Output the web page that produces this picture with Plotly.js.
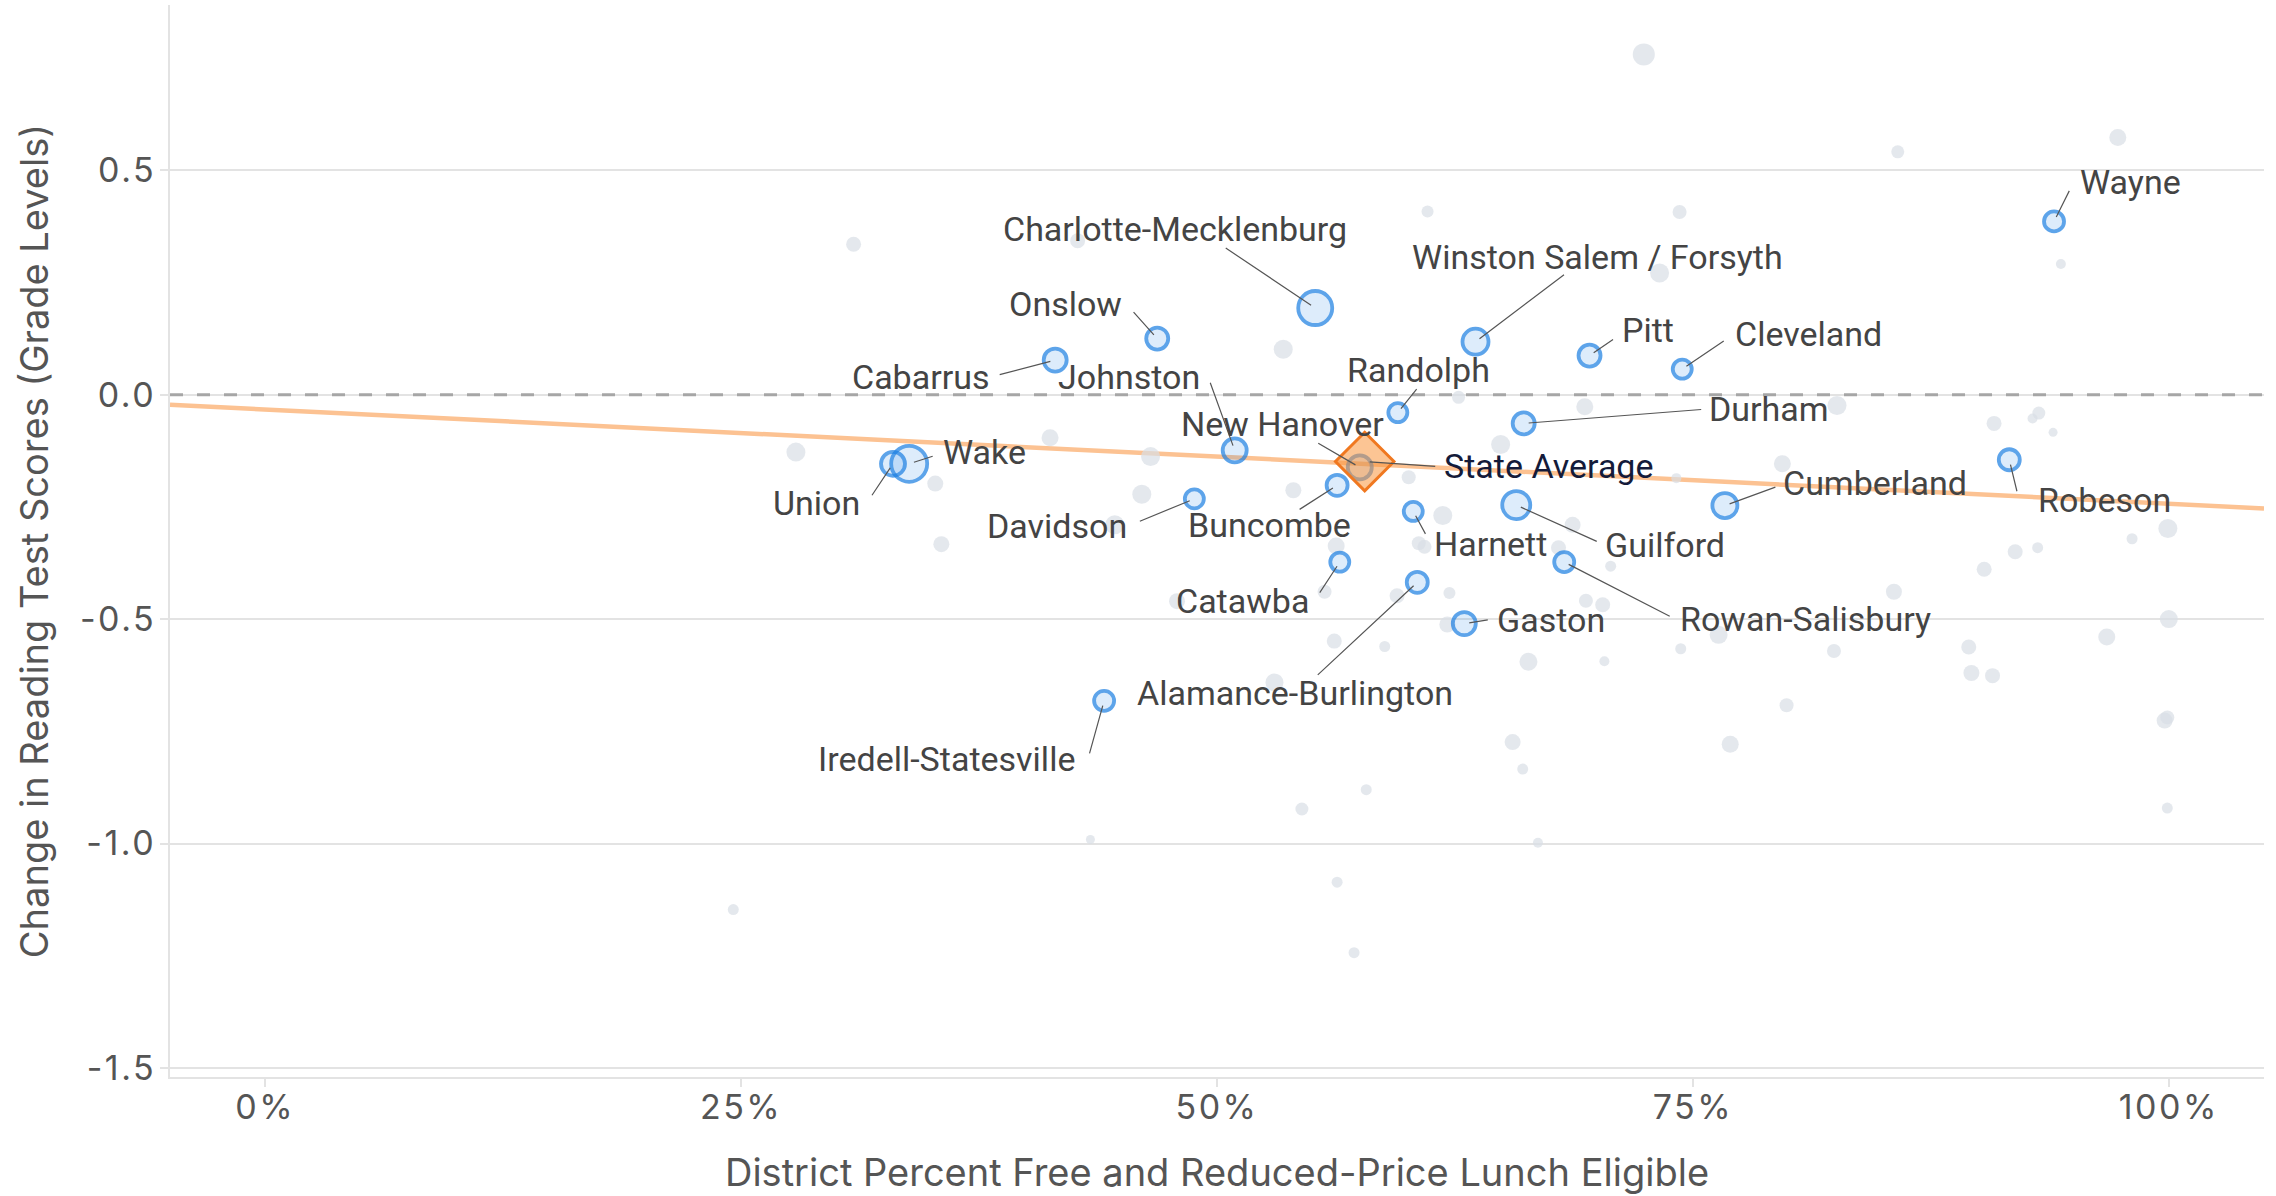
<!DOCTYPE html>
<html>
<head>
<meta charset="utf-8">
<script src="https://cdn.plot.ly/plotly-3.0.1.min.js"></script>
<style>
  html, body { margin: 0; padding: 0; background: #ffffff; }
  #chart { width: 2276px; height: 1196px; }
  #chart .xtick text, #chart .ytick text { letter-spacing: 2.5px; }
</style>
</head>
<body>
<div id="chart"></div>
<script>
// ---------------- DATA ----------------
// Gray (unlabeled) districts: share free/reduced-price lunch eligible, change in reading scores
var grayX = [
  0.3091, 0.4268, 0.6106, 0.5348, 0.6269, 0.2788, 0.4123, 0.3520, 0.4651, 0.4605,
  0.4463, 0.3552, 0.5401, 0.6007, 0.6186, 0.6060, 0.6090, 0.6221, 0.5626, 0.5946,
  0.4790, 0.7242, 0.9732, 0.8576, 0.7430, 0.7325, 0.9433, 0.6932, 0.8257, 0.6490,
  0.7970, 0.7413, 0.9082, 0.9317, 0.9284, 0.9392, 0.9995, 0.9807, 0.9193, 0.9311,
  0.9030, 0.6868, 0.7068, 0.6794, 0.8556, 0.6938, 0.7026, 0.7635, 0.7436, 0.8241,
  1.0000, 0.9674, 0.8949, 0.8963, 0.9074, 0.6636, 0.7035, 0.7992, 0.7696, 0.6553,
  0.6606, 0.9978, 0.9992, 0.9992, 0.6686, 0.5784, 0.5446, 0.4335, 0.5631, 0.5720,
  0.2459, 0.5302, 0.5616, 0.5881, 0.6210, 0.5565
];
var grayY = [
  0.335, 0.343, 0.408, 0.101, -0.006, -0.128, -0.096, -0.198, -0.138, -0.222,
  -0.290, -0.333, -0.213, -0.184, -0.269, -0.331, -0.339, -0.442, -0.337, -0.448,
  -0.460, 0.758, 0.573, 0.541, 0.407, 0.271, 0.291, -0.027, -0.024, -0.111,
  -0.154, -0.186, -0.064, -0.041, -0.053, -0.084, -0.298, -0.321, -0.350, -0.341,
  -0.389, -0.290, -0.382, -0.341, -0.439, -0.459, -0.468, -0.535, -0.566, -0.571,
  -0.500, -0.540, -0.562, -0.620, -0.626, -0.595, -0.594, -0.692, -0.779, -0.774,
  -0.834, -0.726, -0.719, -0.921, -0.998, -0.880, -0.923, -0.991, -1.086, -1.243,
  -1.147, -0.641, -0.549, -0.561, -0.512, -0.439
];

// Labeled districts
var hiNames = [
  'Wayne', 'Charlotte-Mecklenburg', 'Onslow', 'Cabarrus', 'Winston Salem / Forsyth',
  'Pitt', 'Cleveland', 'Randolph', 'Durham', 'Johnston',
  'Union', 'Wake', 'New Hanover', 'Robeson', 'Buncombe',
  'Davidson', 'Guilford', 'Cumberland', 'Harnett', 'Catawba',
  'Rowan-Salisbury', 'Alamance-Burlington', 'Gaston', 'Iredell-Statesville'
];
var hiX = [
  0.9397, 0.5516, 0.4686, 0.4150, 0.6358,
  0.6957, 0.7444, 0.5950, 0.6611, 0.5093,
  0.3298, 0.3383, 0.5750, 0.9162, 0.5631,
  0.4881, 0.6572, 0.7668, 0.6031, 0.5645,
  0.6824, 0.6052, 0.6299, 0.4407
];
var hiY = [
  0.386, 0.193, 0.125, 0.077, 0.118,
  0.087, 0.057, -0.040, -0.064, -0.124,
  -0.154, -0.154, -0.162, -0.145, -0.202,
  -0.232, -0.246, -0.247, -0.260, -0.373,
  -0.373, -0.418, -0.510, -0.682
];

// State average
var avgName = ['State Average'];
var avgX = [0.5776];
var avgY = [-0.149];

// Fitted trend line (read at both plot edges)
var trendX = [-0.05, 1.05];
var trendY = [-0.0225, -0.2535];

// Tick labels
var xTickVals = [0, 0.25, 0.5, 0.75, 1.0];
var xTickText = ['0%', '25%', '50%', '75%', '100%'];
var yTickVals = [-1.5, -1.0, -0.5, 0.0, 0.5];
var yTickText = ['-1.5', '-1.0', '-0.5', '0.0', '0.5'];

// ---------------- SIZES / POSITIONS (styling, not data) ----------------
var grayDotSize = [
  15, 15, 12, 19, 13, 19, 17, 16, 19, 19,
  19, 16, 16, 14, 19, 14, 14, 12, 17, 15,
  16, 22, 17, 13, 14, 19, 10, 17, 19, 19,
  17, 10, 15, 13, 10, 9, 19, 11, 15, 11,
  15, 16, 11, 15, 16, 14, 15, 18, 11, 14,
  18, 17, 15, 16, 15, 18, 10, 14, 17, 16,
  11, 16, 14, 11, 10, 11, 13, 9, 11, 11,
  11, 18, 15, 11, 16, 14
];
var hiDotSize = [
  20, 34, 22, 23, 26,
  22, 19, 19, 22, 24,
  24, 36, 24, 21, 21,
  19, 28, 25, 19, 19,
  20, 21, 23, 20
];
// label text centre relative to its point, in pixels (x right, y down)
var labelOffset = {
  'Wayne': [76, -39],
  'Charlotte-Mecklenburg': [-140, -79],
  'Onslow': [-92, -35],
  'Cabarrus': [-134, 17],
  'Winston Salem / Forsyth': [122, -85],
  'Pitt': [58, -26],
  'Cleveland': [126, -35],
  'Randolph': [21, -43],
  'Durham': [245, -14],
  'Johnston': [-106, -73],
  'Union': [-77, 39],
  'Wake': [75, -12],
  'New Hanover': [-77, -43],
  'Robeson': [95, 40],
  'Buncombe': [-68, 40],
  'Davidson': [-137, 27],
  'Guilford': [149, 40],
  'Cumberland': [150, -23],
  'Harnett': [77, 33],
  'Catawba': [-97, 39],
  'Rowan-Salisbury': [241, 57],
  'Alamance-Burlington': [-122, 111],
  'Gaston': [87, -4],
  'Iredell-Statesville': [-158, 58],
  'State Average': [184, 4]
};
// start of each leader line relative to its point, in pixels (x right, y down)
var leaderTail = {
  'Wayne': [16, -32],
  'Charlotte-Mecklenburg': [-91, -61],
  'Onslow': [-25, -28],
  'Cabarrus': [-57, 15],
  'Winston Salem / Forsyth': [90, -68],
  'Pitt': [25, -17],
  'Cleveland': [43, -29],
  'Randolph': [20, -25],
  'Durham': [179, -14],
  'Johnston': [-25, -69],
  'Union': [-22, 33],
  'Wake': [25, -8],
  'New Hanover': [-43, -25],
  'Robeson': [8, 33],
  'Buncombe': [-39, 25],
  'Davidson': [-56, 23],
  'Guilford': [82, 37],
  'Cumberland': [52, -19],
  'Harnett': [13, 24],
  'Catawba': [-21, 32],
  'Rowan-Salisbury': [107, 55],
  'Alamance-Burlington': [-101, 94],
  'Gaston': [25, -4],
  'Iredell-Statesville': [-15, 54],
  'State Average': [72, 5]
};

// ---------------- TRACES ----------------
var traces = [
  {
    type: 'scatter', mode: 'lines', x: trendX, y: trendY,
    line: { color: '#fcc292', width: 4.5 }, hoverinfo: 'skip', showlegend: false
  },
  {
    type: 'scatter', mode: 'markers', x: grayX, y: grayY,
    marker: { color: '#d9dee5', size: grayDotSize, line: { width: 0 } },
    showlegend: false
  },
  {
    type: 'scatter', mode: 'markers', x: hiX, y: hiY, text: hiNames,
    marker: { color: 'rgba(30,128,230,0.21)', size: hiDotSize,
              line: { color: '#1a7ee2', width: 3.8 } },
    showlegend: false
  },
  {
    type: 'scatter', mode: 'markers', x: avgX, y: avgY, text: avgName,
    marker: { symbol: 'diamond', color: 'rgba(250,150,60,0.55)', size: 45,
              line: { color: '#f07820', width: 3 } },
    showlegend: false
  }
];

// ---------------- ANNOTATIONS ----------------
var annotations = [];
function addLabel(name, x, y, color) {
  var off = labelOffset[name];
  var tail = leaderTail[name];
  // leader line
  annotations.push({
    x: x, y: y, xref: 'x', yref: 'y', text: '',
    showarrow: true, arrowhead: 0, arrowwidth: 1.2, arrowcolor: '#555555',
    standoff: 5, ax: tail[0], ay: tail[1]
  });
  // label text
  annotations.push({
    x: x, y: y, xref: 'x', yref: 'y', text: name, showarrow: false,
    xanchor: 'center', yanchor: 'middle', xshift: off[0], yshift: -off[1],
    font: { family: 'Roboto, sans-serif', size: 34, color: color }
  });
}
for (var i = 0; i < hiNames.length; i++) addLabel(hiNames[i], hiX[i], hiY[i], '#444444');
addLabel(avgName[0], avgX[0], avgY[0], '#141b3a');

// ---------------- LAYOUT ----------------
var axisFont = 'Inter, sans-serif';
var layout = {
  width: 2276, height: 1196,
  margin: { l: 170, r: 12, t: 5, b: 119, pad: 0 },
  paper_bgcolor: '#ffffff', plot_bgcolor: '#ffffff',
  showlegend: false,
  hovermode: false,
  xaxis: {
    range: [-0.05, 1.05],
    tickvals: xTickVals, ticktext: xTickText,
    showgrid: false, zeroline: false,
    showline: true, linecolor: '#e3e3e3', linewidth: 2,
    ticks: 'outside', ticklen: 8, tickwidth: 2, tickcolor: '#e3e3e3',
    ticklabelstandoff: -9,
    tickfont: { family: axisFont, size: 34, color: '#555555' },
    title: { text: 'District Percent Free and Reduced-Price Lunch Eligible',
             font: { family: axisFont, size: 38, color: '#555555' }, standoff: 34 }
  },
  yaxis: {
    range: [-1.52, 0.868],
    tickvals: yTickVals, ticktext: yTickText,
    showgrid: true, gridcolor: '#e3e3e3', gridwidth: 2,
    zeroline: false,
    showline: true, linecolor: '#e3e3e3', linewidth: 2,
    ticks: 'outside', ticklen: 8, tickwidth: 2, tickcolor: '#e3e3e3',
    ticklabelstandoff: -3,
    tickfont: { family: axisFont, size: 34, color: '#555555' },
    title: { text: 'Change in Reading Test Scores (Grade Levels)',
             font: { family: axisFont, size: 38, color: '#555555' }, standoff: 30 }
  },
  shapes: [
    { type: 'line', xref: 'paper', x0: 0, x1: 1, yref: 'y', y0: 0, y1: 0,
      layer: 'above', line: { color: '#a6a6a6', width: 3, dash: '13px,14px' } }
  ],
  annotations: annotations
};

Plotly.newPlot('chart', traces, layout, { displayModeBar: false, responsive: false });
</script>
</body>
</html>
